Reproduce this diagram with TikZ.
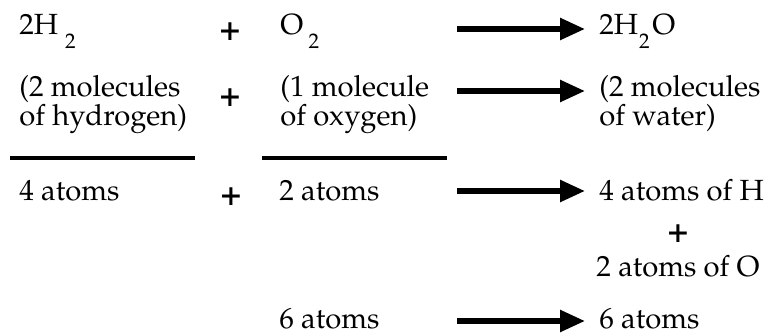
\documentclass[tikz,border=0pt]{standalone}
\usepackage[T1]{fontenc}
\usepackage{mathpazo}
\usepackage{tikz}
\usetikzlibrary{arrows.meta,positioning}
\newcommand{\chemsub}[1]{\raisebox{-7.5pt}{\fontsize{12}{12}\selectfont #1}}

\begin{document}
\begin{tikzpicture}[
  txt/.style={inner sep=0pt,anchor=base west,align=left,
              font=\fontsize{16.6}{15.4}\selectfont},
  plus/.style={inner sep=0pt,font=\fontsize{20}{20}\selectfont\bfseries},
  arr/.style={-{Triangle[length=0.5cm,width=0.42cm]},line width=0.11cm,shorten >=0.28cm},
  rule/.style={line width=0.07cm}
]
\useasboundingbox (0,0) rectangle (15.34,-6.70);
\node[txt] (h2) at (0.38,-0.70) {2H\hspace{4pt}\chemsub{2}};
\node[plus] (pl1) at (4.60,-0.64) {+};
\node[txt] (o2) at (5.60,-0.70) {O\hspace{3pt}\chemsub{2}};
\node[txt] (h2o) at (11.98,-0.70) {2H\hspace{0.5pt}\chemsub{2}\hspace{1.5pt}O};
\node[txt] (molh) at (0.38,-2.50) {(2 molecules\\of hydrogen)};
\node[plus] (pl2) at (4.60,-1.96) {+};
\node[txt] (molo) at (5.60,-2.50) {(1 molecule\\of oxygen)};
\node[txt] (molw) at (11.98,-2.50) {(2 molecules\\of water)};
\node[txt] (ath) at (0.38,-4.00) {4 atoms};
\node[plus] (pl3) at (4.62,-3.94) {+};
\node[txt] (ato) at (5.58,-4.00) {2 atoms};
\node[txt] (prh) at (11.98,-4.00) {4 atoms of H};
\node[plus] (pl4) at (13.56,-4.66) {+};
\node[txt,anchor=base] (pro) at (13.56,-5.52) {2 atoms of O};
\node[txt] (tot) at (5.58,-6.57) {6 atoms};
\node[txt] (prt) at (11.98,-6.57) {6 atoms};
\coordinate (s1) at (9.14,-0.58);
\coordinate (s2) at (9.14,-1.82);
\coordinate (s3) at (9.14,-3.82);
\coordinate (s4) at (9.14,-6.42);
\draw[arr] (s1) -- (s1 -| h2o.west);
\draw[arr] (s2) -- (s2 -| molw.west);
\draw[arr] (s3) -- (s3 -| prh.west);
\draw[arr] (s4) -- (s4 -| prt.west);
\draw[rule] (0.20,-3.16) -- (3.90,-3.16);
\draw[rule] (5.24,-3.16) -- (8.94,-3.16);
\end{tikzpicture}
\end{document}
